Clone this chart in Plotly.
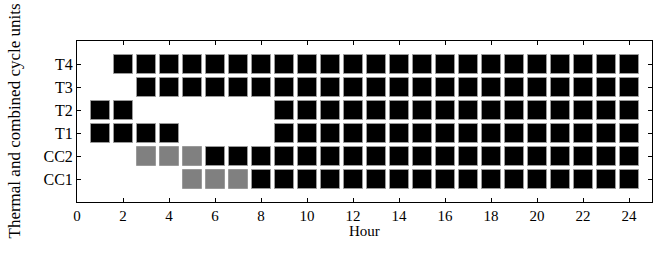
import plotly.graph_objects as go

hours = list(range(1, 25))
units = ["CC1", "CC2", "T1", "T2", "T3", "T4"]
# status per hour: 0 = off, 1 = transition (gray), 2 = on (black)
CC1 = [0, 0, 0, 0, 1, 1, 1] + [2] * 17
CC2 = [0, 0, 1, 1, 1] + [2] * 19
T1 = [2, 2, 2, 2, 0, 0, 0, 0] + [2] * 16
T2 = [2, 2, 0, 0, 0, 0, 0, 0] + [2] * 16
T3 = [0, 0] + [2] * 22
T4 = [0] + [2] * 23
status = [CC1, CC2, T1, T2, T3, T4]

colors = {1: "#808080", 2: "#000000"}
fig = go.Figure()
for level in (1, 2):
    xs, ys = [], []
    for ui, row in enumerate(status):
        for h, s in zip(hours, row):
            if s == level:
                xs.append(h)
                ys.append(ui + 1)
    fig.add_trace(go.Scatter(
        x=xs, y=ys, mode="markers",
        marker=dict(symbol="square", size=19, color=colors[level],
                    line=dict(color="#9a9a9a", width=1)),
        showlegend=False, hoverinfo="skip"))

font = "Liberation Serif"
L, R, T, B = 77, 20, 41, 51
pw = 672 - L - R
ph = 253 - T - B
fig.update_layout(
    width=672, height=253,
    margin=dict(l=L, r=R, t=T, b=B),
    paper_bgcolor="white", plot_bgcolor="white",
    font=dict(family=font, size=15, color="black"),
    xaxis=dict(range=[0, 25], tickmode="array", tickvals=list(range(0, 25, 2)),
               ticks="inside", ticklen=4, tickcolor="black", showgrid=False,
               zeroline=False, showline=True, linecolor="black", linewidth=1,
               mirror="ticks", automargin=False),
    yaxis=dict(range=[0, 7], tickmode="array", tickvals=[1, 2, 3, 4, 5, 6],
               ticktext=units, ticks="inside", ticklen=4, tickcolor="black",
               showgrid=False, zeroline=False, showline=True, linecolor="black",
               linewidth=1, mirror="ticks", automargin=False,
               tickfont=dict(size=16)),
    annotations=[
        dict(text="Thermal and combined cycle units", textangle=-90,
             xref="paper", yref="paper", x=(14 - L) / pw, y=0.5,
             xanchor="center", yanchor="middle", showarrow=False,
             font=dict(size=17)),
        dict(text="Hour", xref="paper", yref="paper", x=0.5,
             y=(253 - B - 221) / ph, xanchor="center", yanchor="top",
             showarrow=False, font=dict(size=15)),
    ],
)
fig.write_html("out.html", config={"displayModeBar": False},
               post_script="document.body.style.margin='0';")
